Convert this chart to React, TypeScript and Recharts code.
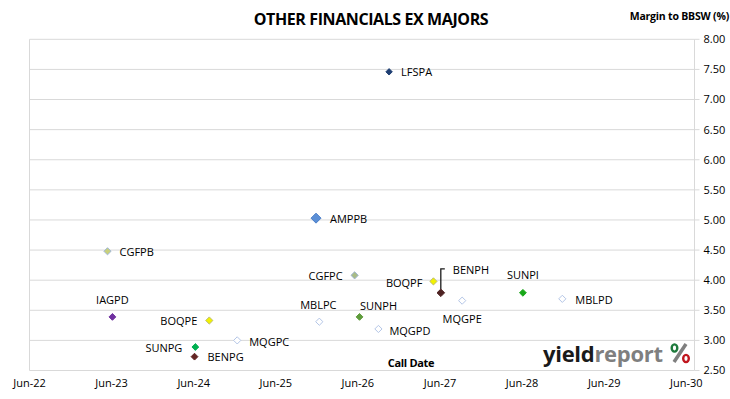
import React from "react";
import {
  ScatterChart,
  Scatter,
  XAxis,
  YAxis,
  CartesianGrid,
  ReferenceLine,
} from "recharts";

// ---- Data ----
const securities = [
  "CGFPB", "IAGPD", "BOQPE", "MQGPC", "SUNPG", "BENPG", "AMPPB", "MBLPC", "CGFPC",
  "SUNPH", "MQGPD", "LFSPA", "BOQPF", "BENPH", "MQGPE", "SUNPI", "MBLPD",
];
// call date as decimal year
const callDates = [
  2023.45, 2023.51, 2024.69, 2025.03, 2024.52, 2024.51, 2025.99, 2026.03, 2026.46,
  2026.52, 2026.75, 2026.88, 2027.42, 2027.51, 2027.77, 2028.51, 2028.99,
];
// margin to BBSW (%)
const margins = [
  4.48, 3.39, 3.33, 3.0, 2.89, 2.73, 5.03, 3.31, 4.08,
  3.39, 3.19, 7.46, 3.98, 3.79, 3.66, 3.79, 3.69,
];
const xTickValues = [2022.5, 2023.5, 2024.5, 2025.5, 2026.5, 2027.5, 2028.5, 2029.5, 2030.5];
const xTickLabels = ["Jun-22", "Jun-23", "Jun-24", "Jun-25", "Jun-26", "Jun-27", "Jun-28", "Jun-29", "Jun-30"];
const yTickValues = [2.5, 3, 3.5, 4, 4.5, 5, 5.5, 6, 6.5, 7, 7.5, 8];

const rows = securities.map((name, i) => ({ name, x: callDates[i], y: margins[i] }));

// ---- Styles ----
const FONT = "'Open Sans', sans-serif";
const WHITE = { fill: "#FFFFFF", stroke: "#B4C6E7", r: 3.6 };
const MARKER: Record<string, { fill: string; stroke: string; r: number }> = {
  CGFPB: { fill: "#C8D07C", stroke: "#9FB6D8", r: 3.6 },
  IAGPD: { fill: "#7030A0", stroke: "#7030A0", r: 3.4 },
  BOQPE: { fill: "#F2F200", stroke: "#BDBD70", r: 3.6 },
  MQGPC: WHITE,
  SUNPG: { fill: "#00B050", stroke: "#00B050", r: 3.4 },
  BENPG: { fill: "#632523", stroke: "#632523", r: 3.4 },
  AMPPB: { fill: "#5B8FD6", stroke: "#4C7FC9", r: 5 },
  MBLPC: WHITE,
  CGFPC: { fill: "#A9BC85", stroke: "#9DB3D2", r: 3.6 },
  SUNPH: { fill: "#5F9C3C", stroke: "#5F9C3C", r: 3.4 },
  MQGPD: WHITE,
  LFSPA: { fill: "#1F3F73", stroke: "#1F3F73", r: 3.2 },
  BOQPF: { fill: "#F2F200", stroke: "#BDBD70", r: 3.6 },
  BENPH: { fill: "#4E2222", stroke: "#4E2222", r: 3.8 },
  MQGPE: WHITE,
  SUNPI: { fill: "#18A818", stroke: "#18A818", r: 3.4 },
  MBLPD: WHITE,
};
type Place = { dx: number; dy: number; anchor: "start" | "middle" | "end" };
const LABEL_PLACE: Record<string, Place> = {
  CGFPB: { dx: 12, dy: 0, anchor: "start" },
  IAGPD: { dx: 0, dy: -17, anchor: "middle" },
  BOQPE: { dx: -12, dy: 0, anchor: "end" },
  MQGPC: { dx: 12, dy: 1, anchor: "start" },
  SUNPG: { dx: -13, dy: 0, anchor: "end" },
  BENPG: { dx: 13, dy: 0, anchor: "start" },
  AMPPB: { dx: 14, dy: 0, anchor: "start" },
  MBLPC: { dx: -1, dy: -17, anchor: "middle" },
  CGFPC: { dx: -12, dy: 0, anchor: "end" },
  SUNPH: { dx: 19, dy: -11, anchor: "middle" },
  MQGPD: { dx: 11, dy: 2, anchor: "start" },
  LFSPA: { dx: 12, dy: 0, anchor: "start" },
  BOQPF: { dx: -11, dy: 1, anchor: "end" },
  BENPH: { dx: 12, dy: -23, anchor: "start" },
  MQGPE: { dx: 0, dy: 18, anchor: "middle" },
  SUNPI: { dx: 0, dy: -18, anchor: "middle" },
  MBLPD: { dx: 13, dy: 1, anchor: "start" },
};

const renderPoint = (props: any) => {
  const { cx, cy, payload } = props;
  const name: string = payload.name;
  const m = MARKER[name];
  const p = LABEL_PLACE[name];
  const r = m.r;
  const pts = `${cx},${cy - r} ${cx + r},${cy} ${cx},${cy + r} ${cx - r},${cy}`;
  return (
    <g>
      {name === "BENPH" && (
        <path
          d={`M${cx},${cy - r} V${cy - 24} H${cx + 4}`}
          stroke="#1a1a1a"
          strokeWidth={1.3}
          fill="none"
        />
      )}
      <polygon points={pts} fill={m.fill} stroke={m.stroke} strokeWidth={1} />
      <text
        x={cx + p.dx}
        y={cy + p.dy}
        textAnchor={p.anchor}
        dominantBaseline="central"
        fontFamily={FONT}
        fontSize={11}
        fill="#000"
      >
        {name}
      </text>
    </g>
  );
};

const W = 730;
const H = 399;

export default function App() {
  return (
    <div style={{ position: "fixed", left: 0, top: 0, width: W, height: H, background: "#fff" }}>
      <ScatterChart
        width={W}
        height={H}
        margin={{ top: 39.3, left: 29.5, right: 5.5, bottom: 8.5 }}
      >
        <CartesianGrid horizontal vertical={false} stroke="#D9D9D9" />
        <XAxis
          type="number"
          dataKey="x"
          domain={[2022.5, 2030.6]}
          ticks={xTickValues}
          tickFormatter={(v: number) => xTickLabels[xTickValues.indexOf(v)] ?? ""}
          axisLine={false}
          tickLine={false}
          tickSize={0}
          tickMargin={9}
          height={20}
          interval={0}
          allowDataOverflow
          tick={{ fontFamily: FONT, fontSize: 11, fill: "#000" }}
        />
        <YAxis
          type="number"
          dataKey="y"
          orientation="right"
          domain={[2.5, 8]}
          ticks={yTickValues}
          tickFormatter={(v: number) => v.toFixed(2)}
          axisLine={{ stroke: "#D9D9D9" }}
          tickLine={{ stroke: "#D9D9D9" }}
          tickSize={5}
          tickMargin={4}
          width={30}
          interval={0}
          tick={{ fontFamily: FONT, fontSize: 11, fill: "#000" }}
        />
        <ReferenceLine x={2022.5} stroke="#D9D9D9" />
        <Scatter data={rows} shape={renderPoint} isAnimationActive={false} />
      </ScatterChart>
      <svg
        width={W}
        height={H}
        style={{ position: "absolute", left: 0, top: 0, pointerEvents: "none" }}
      >
        <text
          x={371}
          y={19}
          textAnchor="middle"
          dominantBaseline="central"
          fontFamily={FONT}
          fontWeight="bold"
          fontSize={16}
          letterSpacing={-0.4}
          fill="#000"
        >
          OTHER FINANCIALS EX MAJORS
        </text>
        <text
          x={729}
          y={16}
          textAnchor="end"
          dominantBaseline="central"
          fontFamily={FONT}
          fontWeight="bold"
          fontSize={10.5}
          letterSpacing={-0.2}
          fill="#000"
        >
          Margin to BBSW (%)
        </text>
        <text
          x={411}
          y={362}
          textAnchor="middle"
          dominantBaseline="central"
          fontFamily={FONT}
          fontWeight="bold"
          fontSize={11}
          letterSpacing={-0.3}
          fill="#000"
        >
          Call Date
        </text>
        <text x={543} y={362} fontFamily={FONT} fontWeight="bold" fontSize={22} letterSpacing={-0.3}>
          <tspan fill="#1a1a1a">yield</tspan>
          <tspan fill="#7f7f7f">report</tspan>
        </text>
        <line x1={686} y1={344} x2={674} y2={362} stroke="#7f7f7f" strokeWidth={3.5} />
        <ellipse cx={674.5} cy={348} rx={2.8} ry={3.6} fill="#fff" stroke="#1E7A3C" strokeWidth={2.4} />
        <ellipse cx={686} cy={358.5} rx={2.8} ry={3.6} fill="#fff" stroke="#C0161E" strokeWidth={2.4} />
      </svg>
    </div>
  );
}
